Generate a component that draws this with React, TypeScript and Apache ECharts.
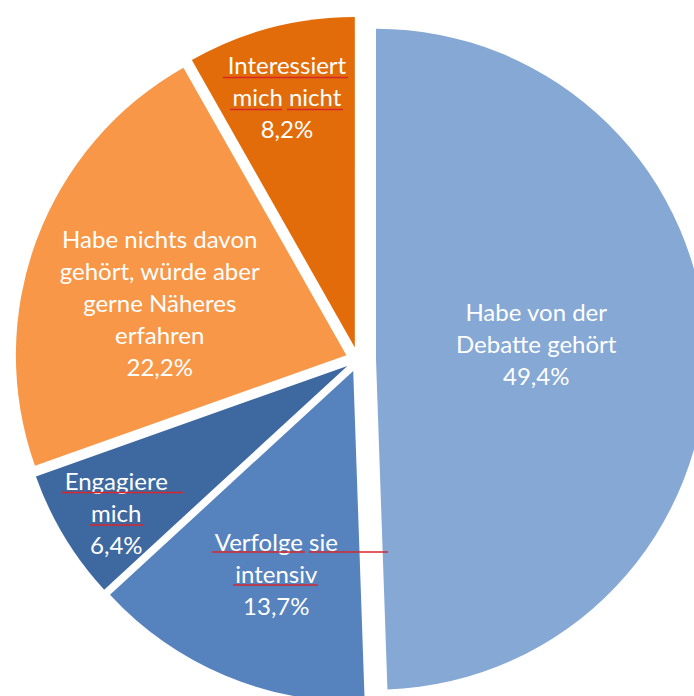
import React, { useEffect, useRef } from 'react';
import * as echarts from 'echarts';

const categories = [
  'Habe von der\nDebatte gehört',
  'Verfolge sie\nintensiv',
  'Engagiere\nmich',
  'Habe nichts davon\ngehört, würde aber\ngerne Näheres\nerfahren',
  'Interessiert\nmich nicht',
];
const values = [49.4, 13.7, 6.4, 22.2, 8.2];
const colors = ['#86A8D5', '#5682BE', '#3E69A0', '#F79747', '#E36C0A'];

// layout settings (not data)
const pieCenter = [358, 359.5];
const pieRadius = 330.5;
const explodeMain = 18;
const explodeOthers = 12.4;
const labelShift: number[][] = [
  [-8, -13],
  [-12, 47],
  [-87, 60],
  [-29, 6],
  [-25, -88],
];
// spell-check style underlines seen in the picture: [x1, y, x2]
const underlines: number[][] = [
  [223, 77.5, 348],
  [230, 109.5, 282],
  [287, 109.5, 343],
  [62, 492.5, 183],
  [90, 525, 143],
  [212, 552, 305],
  [309, 552, 388],
  [233, 585, 318],
];

const fmt = (p: any) => `${p.name}\n${Number(p.value).toFixed(1).replace('.', ',')}%`;

export default function App() {
  const ref = useRef<HTMLDivElement>(null);
  useEffect(() => {
    if (!ref.current) return;
    const chart = echarts.init(ref.current, undefined, { renderer: 'svg' });
    const labelBase = {
      position: 'inside',
      color: '#ffffff',
      fontFamily: 'Lato, Carlito, sans-serif',
      fontSize: 24,
      lineHeight: 32,
      align: 'center',
      textBorderWidth: 0,
      formatter: fmt,
    };
    const mk = (main: boolean) => ({
      type: 'pie',
      center: pieCenter,
      radius: [0, pieRadius],
      startAngle: 90,
      clockwise: true,
      selectedMode: 'multiple',
      selectedOffset: main ? explodeMain : explodeOthers,
      silent: true,
      label: labelBase,
      labelLine: { show: false },
      labelLayout: (params: any) => ({
        dx: labelShift[params.dataIndex][0],
        dy: labelShift[params.dataIndex][1],
      }),
      itemStyle: { borderWidth: 0 },
      emphasis: { disabled: true },
      data: values.map((v, i) => {
        const visible = main ? i === 0 : i !== 0;
        return {
          name: categories[i],
          value: v,
          selected: true,
          itemStyle: { color: colors[i], opacity: visible ? 1 : 0 },
          label: { show: visible },
          select: { itemStyle: { color: colors[i], opacity: visible ? 1 : 0, borderWidth: 0 } },
        };
      }),
    });
    chart.setOption({
      animation: false,
      backgroundColor: '#ffffff',
      series: [mk(false), mk(true)],
      graphic: underlines.map((u) => ({
        type: 'line',
        shape: { x1: u[0], y1: u[1], x2: u[2], y2: u[1] },
        style: { stroke: '#D9262B', lineWidth: 1.5 },
        z: 100,
        silent: true,
      })),
    });
    return () => chart.dispose();
  }, []);
  return (
    <div
      ref={ref}
      style={{ position: 'fixed', left: 0, top: 0, width: 694, height: 696 }}
    />
  );
}
